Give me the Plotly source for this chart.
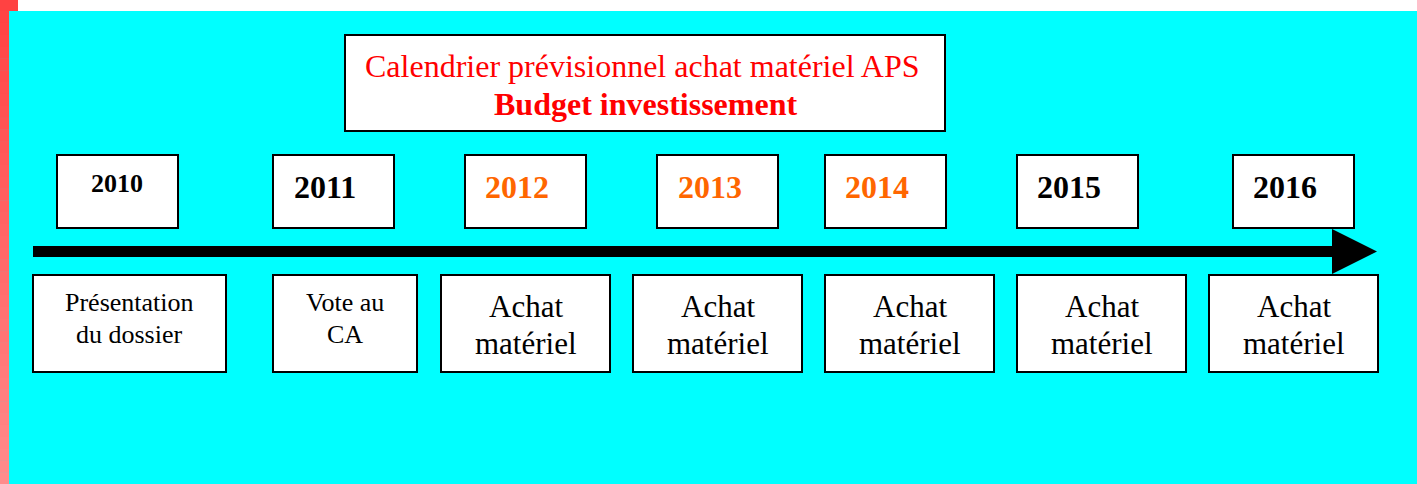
import plotly.graph_objects as go

# ---- data ----
years = ["2010", "2011", "2012", "2013", "2014", "2015", "2016"]
year_colors = ["#000000", "#000000", "#FF6600", "#FF6600", "#FF6600", "#000000", "#000000"]
events = [
    ["Présentation", "du dossier"],
    ["Vote au", "CA"],
    ["Achat", "matériel"],
    ["Achat", "matériel"],
    ["Achat", "matériel"],
    ["Achat", "matériel"],
    ["Achat", "matériel"],
]
title_lines = ["Calendrier prévisionnel achat matériel APS", "<b>Budget investissement</b>"]

# ---- layout geometry (pixels) ----
W, H = 1417, 484
top_left = [57, 273, 465, 657, 825, 1017, 1233]
top_w = 121
top_y = (155, 228)
year_text_x = [117, 325, 517, 710, 877, 1069, 1285]
year_text_y = [183, 187, 187, 187, 187, 187, 187]
year_size = [26, 32, 32, 32, 32, 32, 32]

bot_left = [33, 273, 441, 633, 825, 1017, 1209]
bot_right = [226, 417, 610, 802, 994, 1186, 1378]
bot_y = (275, 372)
ev_size = [26, 26, 31, 31, 31, 31, 31]
ev_line_y = [[302, 334], [302, 334], [306, 343], [306, 343], [306, 343], [306, 343], [306, 343]]

FONT = "Liberation Serif, Times New Roman, serif"

shapes = []
annotations = []

# white top strip
shapes.append(dict(type="rect", xref="x", yref="y", x0=0, x1=W, y0=0, y1=11,
                   fillcolor="#FFFFFF", line=dict(width=0), layer="below"))
# red left strip with vertical gradient
shapes.append(dict(type="rect", xref="x", yref="y", x0=0, x1=18, y0=0, y1=11,
                   fillcolor="rgb(255,66,66)", line=dict(width=0), layer="below"))
nseg = 40
for i in range(nseg):
    y0 = 11 + (H - 11) * i / nseg
    y1 = 11 + (H - 11) * (i + 1) / nseg
    t = i / (nseg - 1)
    g = int(68 + (140 - 68) * t)
    shapes.append(dict(type="rect", xref="x", yref="y", x0=0, x1=9, y0=y0, y1=y1 + 0.5,
                       fillcolor=f"rgb(255,{g},{g})", line=dict(width=0), layer="below"))

# title box
shapes.append(dict(type="rect", xref="x", yref="y", x0=345, x1=945, y0=35, y1=131,
                   fillcolor="#FFFFFF", line=dict(color="#000000", width=2)))
annotations.append(dict(x=642, y=66, xref="x", yref="y", text=title_lines[0], showarrow=False,
                        xanchor="center", yanchor="middle",
                        font=dict(family=FONT, size=32, color="#FF0000")))
annotations.append(dict(x=645, y=104, xref="x", yref="y", text=title_lines[1], showarrow=False,
                        xanchor="center", yanchor="middle",
                        font=dict(family=FONT, size=32, color="#FF0000")))

# arrow
shapes.append(dict(type="rect", xref="x", yref="y", x0=33, x1=1336, y0=246, y1=257,
                   fillcolor="#000000", line=dict(width=0)))
shapes.append(dict(type="path", xref="x", yref="y", path="M 1332 229 L 1377 251.5 L 1332 274 Z",
                   fillcolor="#000000", line=dict(width=0)))

for i, yr in enumerate(years):
    shapes.append(dict(type="rect", xref="x", yref="y", x0=top_left[i], x1=top_left[i] + top_w,
                       y0=top_y[0], y1=top_y[1], fillcolor="#FFFFFF",
                       line=dict(color="#000000", width=2)))
    annotations.append(dict(x=year_text_x[i], y=year_text_y[i], xref="x", yref="y",
                            text=f"<b>{yr}</b>", showarrow=False, xanchor="center", yanchor="middle",
                            font=dict(family=FONT, size=year_size[i], color=year_colors[i])))
    shapes.append(dict(type="rect", xref="x", yref="y", x0=bot_left[i], x1=bot_right[i],
                       y0=bot_y[0], y1=bot_y[1], fillcolor="#FFFFFF",
                       line=dict(color="#000000", width=2)))
    cx = (bot_left[i] + bot_right[i]) / 2
    for j, line in enumerate(events[i]):
        annotations.append(dict(x=cx, y=ev_line_y[i][j], xref="x", yref="y", text=line,
                                showarrow=False, xanchor="center", yanchor="middle",
                                font=dict(family=FONT, size=ev_size[i], color="#000000")))

fig = go.Figure()
fig.add_trace(go.Scatter(x=[0, W], y=[0, H], mode="markers", marker=dict(opacity=0),
                         hoverinfo="skip", showlegend=False))
fig.update_layout(
    width=W, height=H,
    margin=dict(l=0, r=0, t=0, b=0),
    paper_bgcolor="#00FFFF", plot_bgcolor="#00FFFF",
    xaxis=dict(range=[0, W], visible=False, fixedrange=True),
    yaxis=dict(range=[H, 0], visible=False, fixedrange=True),
    shapes=shapes, annotations=annotations, showlegend=False,
)
fig.write_html(
    "out.html",
    config={"displayModeBar": False},
    post_script="document.body.style.margin='0';document.body.style.padding='0';"
                "document.body.style.overflow='hidden';document.body.style.background='#00FFFF';",
)
